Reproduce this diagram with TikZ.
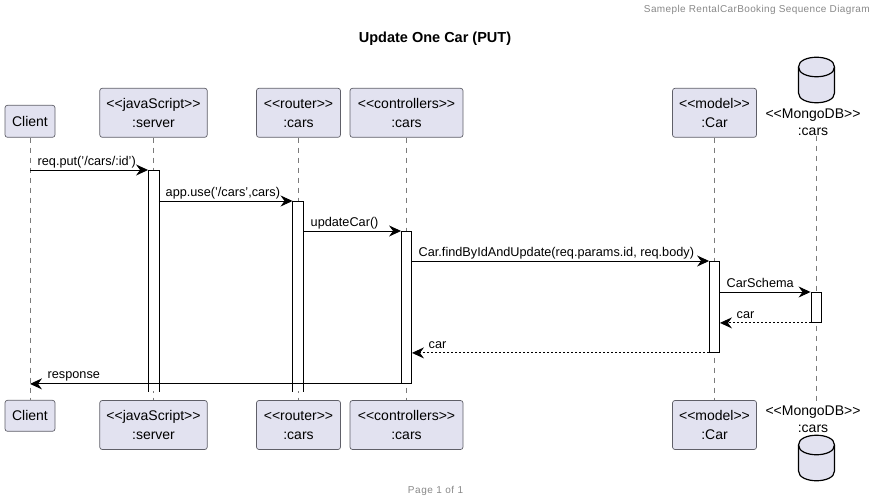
\documentclass[tikz,border=0pt]{standalone}
\usepackage{fontspec}
\setmainfont{Liberation Sans}
\usetikzlibrary{arrows.meta}
\definecolor{boxfill}{HTML}{E2E2F0}
\definecolor{boxline}{HTML}{5F5F68}
\definecolor{lifeline}{HTML}{7A7A7A}
\definecolor{notec}{HTML}{888888}
\tikzset{
  actor/.style={draw=boxline,fill=boxfill,line width=0.7pt,rounded corners=2.5pt,align=center,inner sep=0pt,
     font=\fontsize{14}{19}\selectfont,text=black,minimum height=#1},
  actor/.default=49pt,
  dbtext/.style={align=center,inner sep=0pt,font=\fontsize{14}{17}\selectfont,text=black},
  life/.style={draw=lifeline,line width=0.7pt,dash pattern=on 5pt off 5pt},
  bar/.style={draw=black,fill=white,line width=0.9pt,inner sep=0pt,minimum width=10pt,anchor=north},
  openbar/.style={bar,draw=none},
  baredge/.style={draw=black,line width=0.9pt},
  msg/.style={draw=black,line width=0.9pt,-{Stealth[length=12pt,width=11pt,inset=4pt]}},
  ret/.style={msg,dash pattern=on 2pt off 2pt},
  lbl/.style={inner sep=0pt,anchor=base west,font=\fontsize{12.7}{15}\selectfont,text=black},
  dbshape/.style={draw=black,fill=boxfill,line width=1.2pt},
  hdrtext/.style={inner sep=0pt,font=\fontsize{10}{12}\selectfont\addfontfeatures{LetterSpace=3.8},text=notec},
  ftrtext/.style={inner sep=0pt,font=\fontsize{10}{12}\selectfont\addfontfeatures{LetterSpace=6},text=notec},
}
\begin{document}
\begin{tikzpicture}[x=1pt,y=-1pt]
\useasboundingbox (0,0) rectangle (877,502);
\node[hdrtext,anchor=base east] (hdr) at (870,12.5) {Sameple RentalCarBooking Sequence Diagram};
\node[inner sep=0pt,anchor=base,font=\fontsize{14.5}{16}\selectfont\bfseries] (ttl) at (435,43) {Update One Car (PUT)};
\node[ftrtext,anchor=base] (ftr) at (435.5,493.5) {Page 1 of 1};

% top participants
\node[actor=32pt,minimum width=50pt]  (c1) at (30,121.3) {Client};
\node[actor,minimum width=107.5pt] (s1) at (153.5,112.8) {\vphantom{l}<{}<javaScript>{}>\\:server};
\node[actor,minimum width=84pt]  (r1) at (298.5,112.8) {\vphantom{l}<{}<router>{}>\\:cars};
\node[actor,minimum width=113pt] (k1) at (406.5,112.8) {\vphantom{l}<{}<controllers>{}>\\:cars};
\node[actor,minimum width=84pt]  (m1) at (714.5,112.8) {\vphantom{l}<{}<model>{}>\\:Car};
\node[dbtext] (d1) at (813,122) {<{}<MongoDB>{}>\\:cars};
% bottom participants
\node[actor=31pt,minimum width=50pt]  (c2) at (30,415.8) {Client};
\node[actor,minimum width=107.5pt] (s2) at (153.5,425) {\vphantom{l}<{}<javaScript>{}>\\:server};
\node[actor,minimum width=84pt]  (r2) at (298.5,425) {\vphantom{l}<{}<router>{}>\\:cars};
\node[actor,minimum width=113pt] (k2) at (406.5,425) {\vphantom{l}<{}<controllers>{}>\\:cars};
\node[actor,minimum width=84pt]  (m2) at (714.5,425) {\vphantom{l}<{}<model>{}>\\:Car};
\node[dbtext] (d2) at (813,419) {<{}<MongoDB>{}>\\:cars};

% database cylinders
\draw[dbshape] (798.5,67) .. controls (798.5,54) and (834.5,54) .. (834.5,67)
  -- (834.5,93) .. controls (834.5,106) and (798.5,106) .. (798.5,93) -- cycle;
\draw[dbshape,fill=none] (798.5,67) .. controls (798.5,80) and (834.5,80) .. (834.5,67);
\draw[dbshape] (798.5,445) .. controls (798.5,432) and (834.5,432) .. (834.5,445)
  -- (834.5,471) .. controls (834.5,484) and (798.5,484) .. (798.5,471) -- cycle;
\draw[dbshape,fill=none] (798.5,445) .. controls (798.5,458) and (834.5,458) .. (834.5,445);
\coordinate (dl) at (816,0);

% lifelines
\draw[life] (c1.south) -- (c2.north);
\draw[life] (s1.south) -- (s2.north);
\draw[life] (r1.south) -- (r2.north);
\draw[life] (k1.south) -- (k2.north);
\draw[life] (m1.south) -- (m2.north);
\draw[life] (dl |- d1.south) -- (dl |- d2.north);

% activation bars
\node[openbar,minimum height=221pt] (as) at (153.5,170) {};
\draw[baredge] (as.south west) |- (as.north east) -- (as.south east);
\node[openbar,minimum height=190pt] (ar) at (298,201) {};
\draw[baredge] (ar.south west) |- (ar.north east) -- (ar.south east);
\node[bar,minimum height=152pt] (ak) at (406.5,231) {};
\node[bar,minimum height=91pt]  (am) at (714.5,261) {};
\node[bar,minimum height=30pt]  (ad) at (816,292) {};

% messages
\draw[msg] (c1.south |- as.north) -- (as.north west);
\node[lbl] (l1) at (37.5,165.5) {req.put('/cars/:id')};
\draw[msg] (as.east |- ar.north) -- (ar.north west);
\node[lbl] (l2) at (165.5,196.5) {app.use('/cars',cars)};
\draw[msg] (ar.east |- ak.north) -- (ak.north west);
\node[lbl] (l3) at (310.5,226.5) {updateCar()};
\draw[msg] (ak.east |- am.north) -- (am.north west);
\node[lbl] (l4) at (418.5,256.5) {Car.findByIdAndUpdate(req.params.id, req.body)};
\draw[msg] (am.east |- ad.north) -- (ad.north west);
\node[lbl] (l5) at (726.5,287.5) {CarSchema};
\draw[ret] (ad.south west) -- (am.east |- ad.south);
\node[lbl] (l6) at (736.5,318) {car};
\draw[ret] (am.south west) -- (ak.east |- am.south);
\node[lbl] (l7) at (428.5,348) {car};
\draw[msg] (ak.south west) -- (c1.south |- ak.south);
\node[lbl] (l8) at (47.5,378) {response};
\end{tikzpicture}
\end{document}
